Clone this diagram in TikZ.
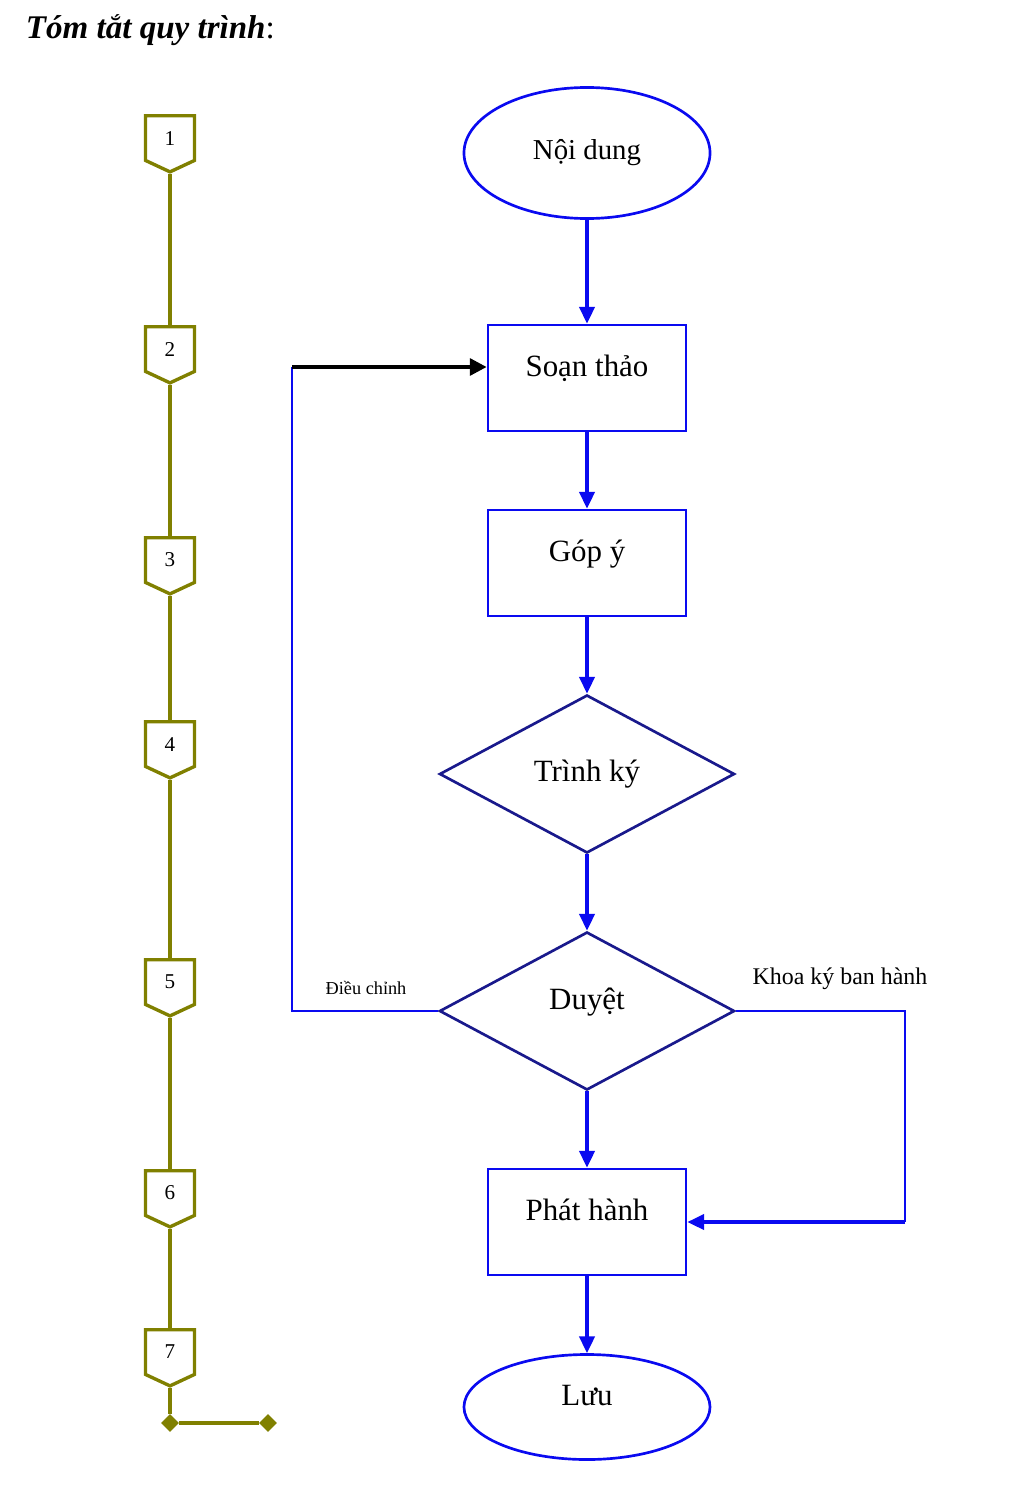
\documentclass[tikz,border=0pt]{standalone}
\usepackage{fontspec}
\setmainfont{Liberation Serif}
\usetikzlibrary{arrows.meta,shapes.geometric,shapes.symbols}

\definecolor{flowblue}{RGB}{10,10,240}
\definecolor{darkflow}{RGB}{25,25,140}
\definecolor{stepolive}{RGB}{128,128,0}

\tikzset{
    raised/.style={text height=0.6cm, text depth=0.67cm},
    boxstep/.style={draw=flowblue, line width=1.9pt, minimum width=4.95cm, minimum height=2.65cm, raised, font=\fontsize{22}{26}\selectfont},
    endstep/.style={ellipse, draw=flowblue, line width=1.9pt, minimum width=6.15cm, font=\fontsize{22}{26}\selectfont},
    choice/.style={diamond, draw=darkflow, line width=1.9pt, minimum width=7.375cm, minimum height=3.95cm, inner sep=0pt, font=\fontsize{22}{26}\selectfont},
    flow/.style={draw=flowblue, line width=2.6pt, -{Triangle[length=0.42cm, width=0.38cm]}},
    backline/.style={draw=flowblue, line width=1.9pt},
    marker/.style={signal, signal to=south, signal pointer angle=130, draw=stepolive, line width=2.4pt, minimum width=1.225cm, minimum height=1.18cm, inner sep=0pt, font=\fontsize{15}{18}\selectfont},
    stepline/.style={draw=stepolive, line width=2.4pt},
    tipmark/.style={diamond, fill=stepolive, minimum size=0.45cm, inner sep=0pt}
}

\begin{document}
\begin{tikzpicture}[x=0.025cm, y=-0.025cm]
    \useasboundingbox (0,0) rectangle (1024,1512); % page size

    \node[anchor=base west, font=\fontsize{23.5}{28}\selectfont] (title) at (21,38) {\textbf{\textit{Tóm tắt quy trình}}:};

    % main flow
    \node[endstep, minimum height=3.275cm, font=\fontsize{20.5}{24}\selectfont] (noidung) at (587,153) {Nội dung};
    \node[boxstep] (soan) at (587,378) {Soạn thảo};
    \node[boxstep] (gopy) at (587,563) {Góp ý};
    \node[choice] (trinh) at (587,774) {Trình ký};
    \node[choice, raised] (duyet) at (587,1011) {Duyệt};
    \node[boxstep] (phat) at (587,1222) {Phát hành};
    \node[endstep, minimum height=2.625cm, raised] (luu) at (587,1407) {Lưu};

    \draw[flow] (noidung) -- (soan);
    \draw[flow] (soan) -- (gopy);
    \draw[flow] (gopy) -- (trinh);
    \draw[flow] (trinh) -- (duyet);
    \draw[flow] (duyet) -- (phat);
    \draw[flow] (phat) -- (luu);

    % back to drafting
    \coordinate (fbbot) at (292,1011);
    \coordinate (fbtop) at (292,367);
    \draw[backline] (duyet.west) -- (fbbot) -- (fbtop);
    \draw[line width=2.6pt, -{Triangle[length=0.42cm, width=0.42cm]}] (fbtop) -- (soan.west |- fbtop);
    \node[font=\fontsize{13}{15}\selectfont] (dieuchinh) at (366,988) {Điều chỉnh};

    % signed by the faculty
    \coordinate (rtop) at (905,1011);
    \coordinate (rbot) at (905,1222);
    \draw[backline] (duyet.east) -- (rtop) -- (rbot);
    \draw[flow] (rbot) -- (phat.east);
    \node[font=\fontsize{17}{20}\selectfont] (khoa) at (840,979) {Khoa ký ban hành};

    % step markers
    \foreach \n/\y in {1/114, 2/325, 3/536, 4/720, 5/958, 6/1169, 7/1328} {
        \node[marker, anchor=north] (m\n) at (170,\y) {\n}; % numbered step
    }
    \foreach \a/\b in {1/2, 2/3, 3/4, 4/5, 5/6, 6/7} {
        \draw[stepline] (m\a.south) -- (m\b.north);
    }
    \node[tipmark] (d1) at (170,1423) {};
    \node[tipmark] (d2) at (268,1423) {};
    \draw[stepline] (m7.south) -- (d1) -- (d2);

\end{tikzpicture}
\end{document}
